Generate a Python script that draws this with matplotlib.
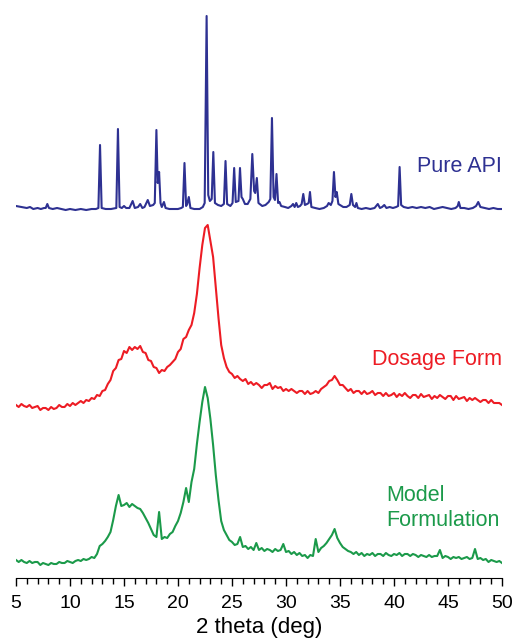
import numpy as np
import matplotlib
matplotlib.use('Agg')
import matplotlib.pyplot as plt
from matplotlib.ticker import MultipleLocator

plt.rcParams.update({'font.family': ['Liberation Sans', 'DejaVu Sans'], 'font.size': 14})

# --- XRD patterns (2-theta in deg, intensity in arbitrary counts) ---
# pure API: sharp crystalline reflections, stored as trace vertices
API_2THETA = [5.0, 5.5, 6.0, 6.3, 6.6, 7.0, 7.3, 7.6, 7.75, 7.9, 8.05, 8.4, 8.8, 9.2, 9.6, 10.0,
              10.5, 11.0, 11.5, 12.0, 12.4, 12.63, 12.78, 12.93, 13.3, 13.8, 14.29, 14.44, 14.59,
              14.8, 15.0, 15.2, 15.5, 15.8, 16.0, 16.3, 16.5, 16.7, 16.9, 17.2, 17.4, 17.7, 17.85,
              18.0, 18.12, 18.25, 18.38, 18.5, 18.7, 18.85, 19.2, 19.6, 20.0, 20.3, 20.45, 20.6,
              20.75, 20.85, 21.0, 21.15, 21.5, 22.0, 22.3, 22.47, 22.65, 22.8, 22.95, 23.12, 23.27,
              23.42, 23.7, 24.0, 24.25, 24.4, 24.55, 24.85, 25.05, 25.2, 25.35, 25.6, 25.74, 25.88,
              26.0, 26.2, 26.45, 26.7, 26.88, 27.05, 27.15, 27.3, 27.45, 27.8, 28.1, 28.4, 28.55,
              28.7, 28.85, 28.98, 29.12, 29.27, 29.4, 29.55, 29.9, 30.2, 30.5, 30.65, 30.8, 30.95,
              31.1, 31.3, 31.45, 31.6, 31.75, 31.95, 32.1, 32.22, 32.35, 32.7, 33.1, 33.5, 33.8,
              33.95, 34.15, 34.3, 34.44, 34.58, 34.7, 34.85, 35.0, 35.3, 35.6, 35.9, 36.05, 36.2,
              36.4, 36.52, 36.65, 37.0, 37.4, 37.8, 38.2, 38.5, 38.7, 38.9, 39.1, 39.3, 39.6, 39.9,
              40.2, 40.38, 40.52, 40.66, 40.9, 41.3, 41.7, 42.1, 42.5, 42.9, 43.3, 43.7, 44.1, 44.5,
              44.9, 45.3, 45.7, 45.9, 46.0, 46.15, 46.5, 46.9, 47.3, 47.6, 47.8, 48.0, 48.4, 48.8,
              49.2, 49.6, 50.0]
API_INT = [7, 6, 5, 6, 4, 5, 4, 5, 5, 9, 5, 4, 5, 4, 3, 4,
           3, 4, 3, 4, 4, 5, 68, 5, 4, 4, 5, 84, 6,
           5, 7, 5, 5, 12, 5, 6, 9, 5, 6, 13, 7, 8, 10,
           83, 30, 41, 10, 6, 11, 5, 4, 4, 4, 5, 6, 50,
           7, 9, 16, 5, 4, 4, 6, 10, 197, 18, 12, 14, 61,
           10, 8, 7, 9, 52, 9, 7, 10, 45, 11, 12, 45, 16,
           14, 9, 9, 14, 59, 22, 20, 35, 10, 7, 8, 11, 14,
           95, 16, 13, 39, 10, 11, 7, 6, 5, 7, 9, 6, 10,
           6, 7, 9, 19, 8, 9, 10, 21, 6, 5, 4, 5, 7,
           10, 8, 12, 41, 16, 21, 9, 8, 6, 6, 8, 19, 8,
           6, 10, 5, 4, 5, 4, 5, 9, 5, 6, 8, 5, 6, 5,
           6, 7, 46, 8, 6, 5, 6, 5, 6, 5, 6, 4, 5, 6,
           5, 4, 5, 7, 11, 5, 5, 4, 5, 7, 11, 6, 5, 4,
           5, 4, 4]

# dosage form and model formulation, sampled every 0.25 deg from 5 to 50
SCAN_2THETA = np.arange(5.0, 50.001, 0.25)
DOSAGE_INT = [8, 6, 9, 7, 6, 8, 5, 6, 7, 3, 5, 5, 3, 6, 4, 5, 8, 6, 6, 9,
              7, 10, 8, 10, 12, 10, 13, 12, 15, 14, 18, 17, 22, 23, 29, 33, 42, 45, 53, 54,
              62, 60, 66, 63, 66, 64, 67, 61, 60, 53, 52, 46, 45, 40, 43, 42, 46, 48, 51, 54,
              61, 64, 74, 76, 83, 88, 100, 119, 145, 168, 185, 188, 172, 156, 125, 95, 68, 55, 46, 41,
              39, 35, 37, 34, 32, 34, 29, 31, 28, 30,
              28, 25, 28, 28, 30, 24, 27, 25, 26, 22,
              24, 22, 24, 22, 20, 22, 22, 19, 22, 19,
              20, 22, 20, 24, 26, 28, 32, 33, 37, 33,
              28, 28, 25, 22, 24, 20, 22, 22, 19, 22,
              19, 20, 22, 18, 20, 20, 17, 20, 17, 18,
              20, 16, 19, 17, 20, 17, 15, 18, 18, 15,
              19, 16, 17, 18, 14, 17, 15, 18, 16, 14,
              17, 17, 13, 17, 14, 15, 16, 12, 15, 13,
              15, 13, 11, 13, 13, 10, 13, 10, 10, 10,
              8]
MODEL_INT = [8, 6, 8, 6, 5, 7, 5, 6, 6, 3,
             5, 4, 3, 5, 4, 4, 6, 5, 5, 7,
             6, 5, 7, 8, 7, 9, 8, 9, 11, 10,
             14, 22, 24, 27, 31, 36, 48, 62, 73, 62,
             63, 65, 61, 64, 62, 60, 59, 55, 50, 45,
             39, 33, 31, 56, 29, 31, 30, 34, 36, 42,
             47, 55, 66, 80, 66, 86, 99, 124, 146, 166,
             181, 170, 149, 123, 93, 68, 47, 38, 33, 28,
             26, 23, 24, 31, 21, 22, 19, 21, 18, 25,
             18, 20, 17, 19, 18, 16, 19, 17, 18, 24,
             16, 17, 14, 16, 13, 15, 12, 13, 10, 13,
             12, 29, 16, 20, 22, 25, 29, 33, 39, 30,
             25, 21, 19, 17, 16, 14, 16, 13, 15, 12,
             14, 13, 15, 12, 14, 14, 12, 15, 13, 12,
             14, 13, 15, 12, 14, 14, 12, 14, 13, 11,
             13, 12, 11, 13, 11, 12, 12, 18, 10, 12,
             11, 9, 11, 10, 11, 9, 10, 11, 9, 10,
             19, 9, 10, 8, 9, 6, 8, 7, 6, 7,
             5]

NAMES = ['Pure API', 'Dosage Form', 'Model\nFormulation']
OFFSETS = [365, 165, 10]
COLORS = ['#2E3192', '#ED1C24', '#1B9A4A']

fig = plt.figure(figsize=(5.17, 6.43), dpi=100)
ax = fig.add_axes([16/517, 65/643, 486/517, 578/643])

series = [(API_2THETA, API_INT), (SCAN_2THETA, DOSAGE_INT), (SCAN_2THETA, MODEL_INT)]
for (x, y), off, c in zip(series, OFFSETS, COLORS):
    ax.plot(x, np.asarray(y) + off, color=c, lw=1.5, solid_joinstyle='round')

# pattern labels
ax.text(50, OFFSETS[0] + 47, NAMES[0], color=COLORS[0], fontsize=15.5, ha='right', va='center')
ax.text(50, OFFSETS[1] + 54, NAMES[1], color=COLORS[1], fontsize=15.5, ha='right', va='center')
ax.text(39.3, OFFSETS[2] + 60, NAMES[2], color=COLORS[2], fontsize=15.5, ha='left', va='center',
        linespacing=1.25)

ax.set_xlim(5, 50)
ax.set_ylim(0, 578)
ax.spines[['top', 'right', 'left']].set_visible(False)
ax.set_yticks([])
ax.xaxis.set_major_locator(MultipleLocator(5))
ax.xaxis.set_minor_locator(MultipleLocator(1))
ax.tick_params(axis='x', which='major', direction='out', length=6, width=1, labelsize=14, pad=6)
ax.tick_params(axis='x', which='minor', direction='out', length=4.5, width=1)
ax.set_xlabel('2 theta (deg)', fontsize=16, labelpad=4)

fig.savefig('out.png', dpi=100)
